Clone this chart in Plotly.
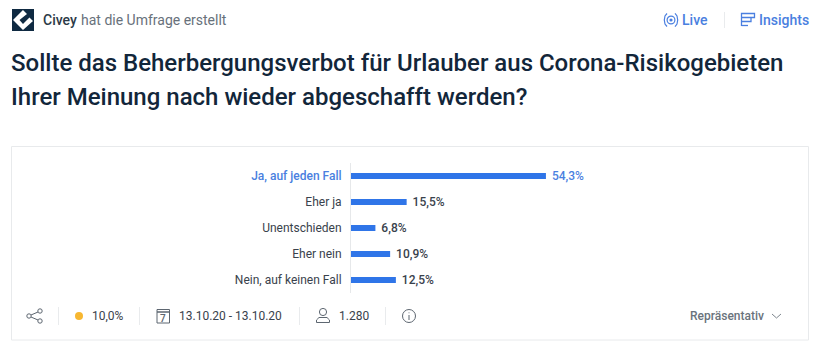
import plotly.graph_objects as go

categories = ["Ja, auf jeden Fall", "Eher ja", "Unentschieden", "Eher nein", "Nein, auf keinen Fall"]
values = [54.3, 15.5, 6.8, 10.9, 12.5]
value_labels = ["54,3%", "15,5%", "6,8%", "10,9%", "12,5%"]
highlight = "Ja, auf jeden Fall"

W, H = 822, 351
BLUE = "#2f75e8"
LINK = "#4a7fe0"
DARK = "#12263a"
GREY = "#5d6670"
TXT = "#39424c"
RULE = "#e9ebed"
FONT = "Roboto"


def X(p):
    return p / W


def Y(p):
    return 1 - p / H


tick_text = [
    f"<span style='color:{LINK};font-weight:500'>{c}</span>" if c == highlight else c for c in categories
]

fig = go.Figure(
    go.Bar(
        y=categories,
        x=values,
        orientation="h",
        marker=dict(color=BLUE, line_width=0),
        text=["  " + v for v in value_labels],
        textposition="outside",
        constraintext="none",
        cliponaxis=False,
        textfont=dict(
            family=FONT,
            size=12,
            weight=500,
            color=[LINK if c == highlight else TXT for c in categories],
        ),
        hoverinfo="skip",
    )
)

shapes = []
annotations = []


def rect(x0, y0, x1, y1, fill="rgba(0,0,0,0)", line=None, lw=1):
    shapes.append(dict(type="rect", xref="paper", yref="paper", x0=X(x0), x1=X(x1), y0=Y(y0), y1=Y(y1),
                       fillcolor=fill, line=dict(color=line or "rgba(0,0,0,0)", width=lw if line else 0), layer="below"))


def seg(x0, y0, x1, y1, color=RULE, lw=1):
    shapes.append(dict(type="line", xref="paper", yref="paper", x0=X(x0), x1=X(x1), y0=Y(y0), y1=Y(y1),
                       line=dict(color=color, width=lw)))


def circ(cx, cy, r, fill="rgba(0,0,0,0)", line=None, lw=1):
    rect_d = dict(type="circle", xref="paper", yref="paper", x0=X(cx - r), x1=X(cx + r), y0=Y(cy - r), y1=Y(cy + r),
                  fillcolor=fill, line=dict(color=line or "rgba(0,0,0,0)", width=lw if line else 0))
    shapes.append(rect_d)


def poly(points, fill="rgba(0,0,0,0)", line=None, lw=1, close=True):
    d = "M" + " L".join(f"{X(a):.5f},{Y(b):.5f}" for a, b in points) + (" Z" if close else "")
    shapes.append(dict(type="path", xref="paper", yref="paper", path=d, fillcolor=fill,
                       line=dict(color=line or "rgba(0,0,0,0)", width=lw if line else 0)))


def label(x, y, text, size=12, color=TXT, anchor="left", weight=400):
    annotations.append(dict(xref="paper", yref="paper", x=X(x - 2 if anchor == "left" else x), y=Y(y), text=text,
                            showarrow=False, xanchor=anchor, yanchor="middle",
                            font=dict(family=FONT, size=size, color=color, weight=weight)))


# header
rect(12, 9, 34, 31, fill="#0f2a42")
poly([(23, 10), (27, 14), (19.5, 20), (23, 24), (29.5, 17.5), (33, 21), (23, 30), (13, 20)], fill="#ffffff")
label(43, 20.5, "Civey", size=14, color="#2c3a47", weight=500)
label(81, 20.5, "hat die Umfrage erstellt", size=14, color="#68717b")

# live / insights
circ(671, 20, 1.6, fill=LINK)
circ(671, 20, 3.9, line=LINK, lw=1.2)
poly([(667, 13.5), (665, 16), (664.3, 20), (665, 24), (667, 26.5)], line=LINK, lw=1.2, close=False)
poly([(675, 13.5), (677, 16), (677.7, 20), (677, 24), (675, 26.5)], line=LINK, lw=1.2, close=False)
label(682, 20.5, "Live", size=14, color=LINK, weight=500)
seg(724.5, 12, 724.5, 28)
poly([(741.5, 26), (741.5, 13.5), (754.5, 13.5), (754.5, 17.5), (741.5, 17.5)], line=LINK, lw=1.3, close=False)
poly([(741.5, 21.5), (751, 21.5), (751, 17.5)], line=LINK, lw=1.3, close=False)
seg(741.5, 25.5, 748, 25.5, LINK, 1.3)
label(759, 20.5, "Insights", size=14, color=LINK, weight=500)

# question
label(11, 63, "Sollte das Beherbergungsverbot für Urlauber aus Corona-Risikogebieten", size=24, color=DARK, weight=500)
label(11, 97, "Ihrer Meinung nach wieder abgeschafft werden?", size=24, color=DARK, weight=500)

# card
rect(11.5, 146.5, 808.5, 340, line="#e8eaec", lw=1)

# footer
for x in (58.5, 139.5, 299.5, 385.5):
    seg(x, 307, x, 325)
for a, b in ((29, 316), (40, 311), (40, 321)):
    circ(a, b, 2.2, line=GREY, lw=1)
seg(31, 315, 38, 312, GREY)
seg(31, 317, 38, 320, GREY)

circ(79, 316, 4, fill="#f7b731")
label(92, 316, "10,0%", size=12, color=TXT, weight=400)

rect(157, 309.5, 169.5, 323, line=GREY, lw=1)
seg(157, 312, 169.5, 312, GREY, 1.5)
label(163.3, 318, "7", size=10, color=GREY, anchor="center", weight=500)
label(179, 316, "13.10.20 - 13.10.20", size=12, color=TXT, weight=400)

circ(323, 312, 3.6, line=GREY, lw=1)
poly([(316.5, 322.5), (316.5, 320), (319, 317.5), (327, 317.5), (329.5, 320), (329.5, 322.5)], line=GREY, lw=1)
label(339, 316, "1.280", size=12, color=TXT, weight=400)

circ(409, 316, 6.5, line=GREY, lw=1)
seg(409, 315, 409, 320, GREY)
circ(409, 312.7, 0.5, fill=GREY)

label(690, 316, "Repräsentativ", size=12, color="#6a737c", weight=500)
poly([(772, 314), (776.5, 318), (781, 314)], line="#7d858d", lw=1, close=False)

fig.update_layout(
    width=W,
    height=H,
    autosize=False,
    margin=dict(l=0, r=0, t=0, b=0),
    paper_bgcolor="#ffffff",
    plot_bgcolor="#ffffff",
    showlegend=False,
    bargap=0.77,
    shapes=shapes,
    annotations=annotations,
    xaxis=dict(domain=[X(351), X(710)], range=[0, 100], visible=False, fixedrange=True),
    yaxis=dict(
        domain=[Y(293), Y(163)],
        autorange=False,
        range=[4.5, -0.5],
        tickmode="array",
        tickvals=categories,
        ticktext=tick_text,
        tickfont=dict(family=FONT, size=12, color=TXT),
        ticks="outside",
        ticklen=6,
        tickcolor="rgba(0,0,0,0)",
        showgrid=False,
        zeroline=False,
        showline=True,
        linecolor="#e6e8ea",
        linewidth=1,
        fixedrange=True,
    ),
)

fig.write_html("out.html", config=dict(displayModeBar=False),
               post_script="document.body.style.margin='0';")
